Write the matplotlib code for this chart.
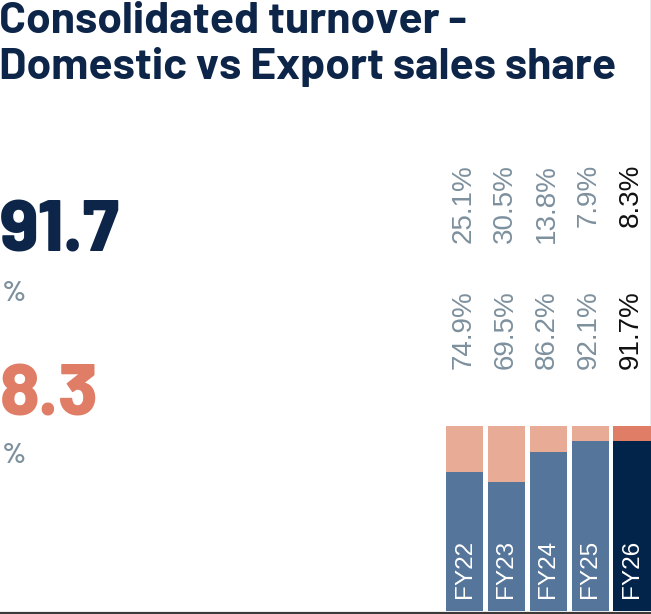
import matplotlib
matplotlib.use("Agg")
import matplotlib.pyplot as plt
from matplotlib import font_manager
from matplotlib.lines import Line2D
import matplotlib.transforms as mtransforms

# data
years = ["FY22", "FY23", "FY24", "FY25", "FY26"]
domestic = [74.9, 69.5, 86.2, 92.1, 91.7]
export = [25.1, 30.5, 13.8, 7.9, 8.3]
headline_domestic = "91.7"
headline_export = "8.3"
title = "Consolidated turnover -\nDomestic vs Export sales share"

NAVY = "#0c2548"
BAR_DOM = "#56759a"
BAR_EXP = "#e8ab95"
CUR_DOM = "#02234a"
CUR_EXP = "#e07d66"
GREY = "#7d909d"

installed = {f.name for f in font_manager.fontManager.ttflist}


def pick(names):
    for n in names:
        if n in installed:
            return n
    return "DejaVu Sans"


title_font = pick(["Barlow", "Barlow Semi Condensed", "Roboto"])
big_font = pick(["Barlow", "Roboto"])
label_font = pick(["Liberation Sans", "Arimo", "DejaVu Sans"])

W, H = 651, 614
fig = plt.figure(figsize=(W / 100, H / 100), dpi=100)


def fx(px):
    return px / W


def fy(py):
    return 1 - py / H


# bar axes: 0% at y=611px, 100% at y=426px
ax = fig.add_axes([fx(446), fy(611), fx(651) - fx(446), fy(426) - fy(611)])
x = list(range(len(years)))
dom_colors = [BAR_DOM] * (len(years) - 1) + [CUR_DOM]
exp_colors = [BAR_EXP] * (len(years) - 1) + [CUR_EXP]
ax.bar(x, domestic, width=0.89, color=dom_colors, linewidth=0)
ax.bar(x, export, bottom=domestic, width=0.89, color=exp_colors, linewidth=0)
ax.set_xlim(-0.445, 4.455)
ax.set_ylim(0, 100)
ax.axis("off")

for i, yr in enumerate(years):
    ax.text(i, 7, yr, rotation=90, ha="center", va="bottom", color="white",
            fontsize=17.5, family=label_font)

blend = mtransforms.blended_transform_factory(ax.transData, fig.transFigure)
for i in x:
    col = "#111111" if i == len(years) - 1 else GREY
    ax.text(i - 0.03, fy(164), f"{export[i]:.1f}%", rotation=90, ha="center", va="top",
            color=col, fontsize=20, family=label_font, transform=blend, clip_on=False)
    ax.text(i - 0.03, fy(290), f"{domestic[i]:.1f}%", rotation=90, ha="center", va="top",
            color=col, fontsize=20, family=label_font, transform=blend, clip_on=False)

# title
line1, line2 = title.split("\n")
fig.text(fx(-1), fy(33), line1, ha="left", va="baseline", color=NAVY,
         fontsize=32, fontweight="bold", family=title_font)
fig.text(fx(-1), fy(79), line2, ha="left", va="baseline", color=NAVY,
         fontsize=32, fontweight="bold", family=title_font)

# headline figures
fig.text(fx(0), fy(252), headline_domestic, ha="left", va="baseline", color=NAVY,
         fontsize=52, fontweight="heavy", family=big_font)
fig.text(fx(2), fy(301), "%", ha="left", va="baseline", color=GREY, fontsize=21,
         fontweight="semibold", family=big_font)
fig.text(fx(0), fy(415), headline_export, ha="left", va="baseline", color=CUR_EXP,
         fontsize=52, fontweight="heavy", family=big_font)
fig.text(fx(2), fy(463), "%", ha="left", va="baseline", color=GREY, fontsize=21,
         fontweight="semibold", family=big_font)

# frame lines
fig.add_artist(Line2D([0, 1], [fy(612.5), fy(612.5)], transform=fig.transFigure,
                      color="#3a3a3a", linewidth=1.6))
fig.add_artist(Line2D([fx(650.5), fx(650.5)], [fy(0), fy(425)], transform=fig.transFigure,
                      color="#8095a5", linewidth=1.0))

fig.savefig("out.png", dpi=100)
